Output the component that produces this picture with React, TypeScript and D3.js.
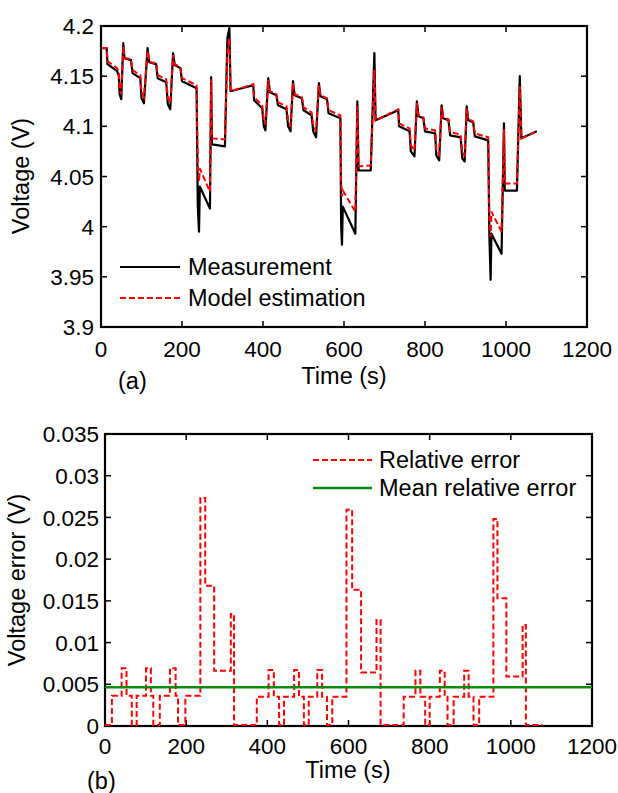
import React from "react";
import * as d3 from "d3";

// ---- data ----
const timeS = [0,14,16,40,44,46,50,55,58,74,78,97,100,106,115,119,136,140,161,165,171,178,182,196,200,236,239,242,244,269,272,274,306,312,317,320,376,378,398,402,406,413,417,433,437,458,462,468,474,478,496,500,520,524,531,538,542,558,562,591,593,595,597,628,633,636,666,675,678,734,736,762,765,774,780,784,796,800,825,828,835,841,845,858,862,888,892,898,903,907,919,923,956,959,962,964,989,995,997,1027,1034,1038,1076];
const measuredV = [4.178,4.178,4.162,4.155,4.150,4.132,4.127,4.183,4.168,4.166,4.153,4.148,4.128,4.123,4.178,4.164,4.162,4.148,4.144,4.122,4.117,4.173,4.161,4.158,4.145,4.138,4.020,3.995,4.040,4.018,4.149,4.082,4.080,4.188,4.198,4.135,4.141,4.126,4.118,4.100,4.096,4.148,4.134,4.131,4.121,4.117,4.100,4.095,4.145,4.131,4.128,4.116,4.111,4.095,4.089,4.143,4.130,4.127,4.113,4.108,4.000,3.982,4.020,3.993,4.125,4.056,4.056,4.173,4.106,4.116,4.100,4.095,4.075,4.070,4.125,4.110,4.108,4.095,4.093,4.071,4.066,4.121,4.108,4.106,4.091,4.089,4.068,4.065,4.120,4.106,4.104,4.090,4.086,3.990,3.947,3.993,3.973,4.103,4.036,4.036,4.150,4.088,4.095];
const modelV = [4.178,4.178,4.165,4.158,4.153,4.137,4.132,4.180,4.168,4.167,4.156,4.151,4.134,4.129,4.175,4.164,4.163,4.151,4.147,4.128,4.123,4.171,4.162,4.159,4.148,4.141,4.060,4.045,4.058,4.035,4.147,4.088,4.087,4.175,4.188,4.135,4.142,4.129,4.121,4.106,4.102,4.146,4.135,4.132,4.124,4.120,4.106,4.101,4.143,4.132,4.129,4.119,4.114,4.101,4.095,4.141,4.131,4.128,4.116,4.111,4.045,4.030,4.036,4.015,4.120,4.060,4.061,4.156,4.106,4.117,4.103,4.098,4.081,4.076,4.123,4.111,4.109,4.098,4.096,4.077,4.072,4.119,4.109,4.107,4.094,4.092,4.074,4.071,4.118,4.107,4.105,4.093,4.089,4.010,3.990,4.015,3.995,4.097,4.043,4.043,4.140,4.088,4.095];

const errTime = [0,17,41,53,66,78,101,113,119,135,160,174,180,198,235,247,269,310,318,374,403,416,429,441,466,478,490,502,523,535,547,560,595,609,631,669,679,736,765,777,789,800,825,837,844,859,885,896,908,922,957,967,989,1029,1037,1078];
const errValue = [0,0.0035,0.0068,0.0035,0,0.0035,0.0068,0.0035,0,0.0035,0.0068,0.0035,0,0.0035,0.0272,0.0167,0.0065,0.0133,0,0.0034,0.0066,0.0034,0,0.0034,0.0066,0.0034,0,0.0034,0.0066,0.0034,0,0.0034,0.0258,0.0162,0.0063,0.0126,0,0.0034,0.0065,0.0034,0,0.0034,0.0065,0.0034,0,0.0034,0.0065,0.0034,0,0.0034,0.0247,0.0152,0.0058,0.0120,0,0];
const meanRelErr = 0.00464;

const timeTicks = [0,200,400,600,800,1000,1200];
const voltTicks = [3.9,3.95,4,4.05,4.1,4.15,4.2];
const voltTickLabels = ["3.9","3.95","4","4.05","4.1","4.15","4.2"];
const errTicks = [0,0.005,0.01,0.015,0.02,0.025,0.03,0.035];
const errTickLabels = ["0","0.005","0.01","0.015","0.02","0.025","0.03","0.035"];

const FONT = "'Liberation Sans', Arial, Helvetica, sans-serif";
const FS = 22.5;
const FL = 23.5;

function Frame({ x, y, xTicks, yTicks, yLabels, yLabelX, xLabelY }: any) {
  const [x0, x1] = x.range();
  const [y0, y1] = y.range(); // y0 bottom, y1 top
  const tl = 6;
  return (
    <g>
      {xTicks.map((t: number) => (
        <g key={"xt" + t}>
          <line x1={x(t)} x2={x(t)} y1={y0} y2={y0 - tl} stroke="#000" strokeWidth={1.5} />
          <line x1={x(t)} x2={x(t)} y1={y1} y2={y1 + tl} stroke="#000" strokeWidth={1.5} />
          <text x={x(t)} y={xLabelY} textAnchor="middle" fontSize={FS} fontFamily={FONT}>{t}</text>
        </g>
      ))}
      {yTicks.map((t: number, i: number) => (
        <g key={"yt" + i}>
          <line x1={x0} x2={x0 + tl} y1={y(t)} y2={y(t)} stroke="#000" strokeWidth={1.5} />
          <line x1={x1} x2={x1 - tl} y1={y(t)} y2={y(t)} stroke="#000" strokeWidth={1.5} />
          <text x={yLabelX} y={y(t)} dy="0.36em" textAnchor="end" fontSize={FS} fontFamily={FONT}>{yLabels[i]}</text>
        </g>
      ))}
      <rect x={x0} y={y1} width={x1 - x0} height={y0 - y1} fill="none" stroke="#000" strokeWidth={2.2} />
    </g>
  );
}

export default function App() {
  // top chart
  const xA = d3.scaleLinear().domain([0, 1200]).range([101, 587]);
  const yA = d3.scaleLinear().domain([3.9, 4.2]).range([327, 26]);
  const idx = d3.range(timeS.length);
  const lineMeas = d3.line<number>().x(i => xA(timeS[i])).y(i => yA(measuredV[i]));
  const lineModel = d3.line<number>().x(i => xA(timeS[i])).y(i => yA(modelV[i]));

  // bottom chart
  const xB = d3.scaleLinear().domain([0, 1200]).range([105, 592]);
  const yB = d3.scaleLinear().domain([0, 0.035]).range([726, 434]);
  const eIdx = d3.range(errTime.length);
  const lineErr = d3.line<number>().x(i => xB(errTime[i])).y(i => yB(errValue[i]) - 1).curve(d3.curveStepAfter);

  return (
    <svg width={618} height={793} style={{ position: "absolute", left: 0, top: 0, background: "#fff" }}>
      <rect width={618} height={793} fill="#fff" />
      {/* ---- (a) ---- */}
      <path d={lineMeas(idx) || ""} fill="none" stroke="#000" strokeWidth={2.2} strokeLinejoin="round" />
      <path d={lineModel(idx) || ""} fill="none" stroke="#ff0000" strokeWidth={2} strokeDasharray="6,3" />
      <Frame x={xA} y={yA} xTicks={timeTicks} yTicks={voltTicks} yLabels={voltTickLabels} yLabelX={94} xLabelY={357} />
      <text transform="translate(29,176) rotate(-90)" textAnchor="middle" fontSize={FL} fontFamily={FONT}>Voltage (V)</text>
      <text x={344} y={384} textAnchor="middle" fontSize={FL} fontFamily={FONT}>Time (s)</text>
      <text x={118} y={389} fontSize={FL} fontFamily={FONT}>(a)</text>
      <line x1={120} x2={180} y1={267} y2={267} stroke="#000" strokeWidth={2.2} />
      <text x={188} y={267} dy="0.36em" fontSize={FL} fontFamily={FONT}>Measurement</text>
      <line x1={120} x2={180} y1={298} y2={298} stroke="#ff0000" strokeWidth={2} strokeDasharray="6,3" />
      <text x={188} y={298} dy="0.36em" fontSize={FL} fontFamily={FONT}>Model estimation</text>

      {/* ---- (b) ---- */}
      <Frame x={xB} y={yB} xTicks={timeTicks} yTicks={errTicks} yLabels={errTickLabels} yLabelX={99} xLabelY={754} />
      <path d={lineErr(eIdx) || ""} fill="none" stroke="#ff0000" strokeWidth={2} strokeDasharray="6,3" />
      <line x1={xB(0)} x2={xB(1200)} y1={yB(meanRelErr)} y2={yB(meanRelErr)} stroke="#0a8a0a" strokeWidth={2.5} />
      <text transform="translate(25,580) rotate(-90)" textAnchor="middle" fontSize={FL} fontFamily={FONT}>Voltage error (V)</text>
      <text x={348} y={778} textAnchor="middle" fontSize={FL} fontFamily={FONT}>Time (s)</text>
      <text x={87} y={789} fontSize={FL} fontFamily={FONT}>(b)</text>
      <line x1={313} x2={372} y1={460} y2={460} stroke="#ff0000" strokeWidth={2} strokeDasharray="6,3" />
      <text x={379} y={460} dy="0.36em" fontSize={FL} fontFamily={FONT}>Relative error</text>
      <line x1={313} x2={372} y1={488} y2={488} stroke="#0a8a0a" strokeWidth={2.5} />
      <text x={379} y={488} dy="0.36em" fontSize={FL} fontFamily={FONT}>Mean relative error</text>
    </svg>
  );
}
